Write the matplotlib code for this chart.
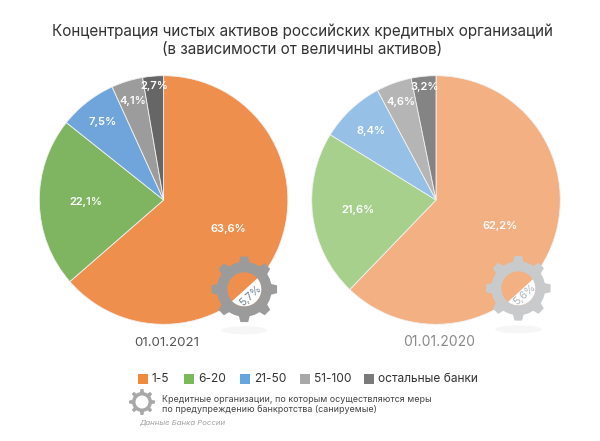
import numpy as np
import matplotlib
matplotlib.use("Agg")
import matplotlib.pyplot as plt
from matplotlib.patches import Circle, Polygon, Rectangle, Ellipse

plt.rcParams['font.family'] = ['Inter', 'DejaVu Sans']

groups = ['1-5', '6-20', '21-50', '51-100', 'остальные банки']
values_2021 = [63.6, 22.1, 7.5, 4.1, 2.7]
values_2020 = [62.2, 21.6, 8.4, 4.6, 3.2]
labels_2021 = ['63,6%', '22,1%', '7,5%', '4,1%', '2,7%']
labels_2020 = ['62,2%', '21,6%', '8,4%', '4,6%', '3,2%']
colors_2021 = ['#EF8F4E', '#7FB561', '#6FA5DB', '#9C9C9C', '#666666']
colors_2020 = ['#F3B083', '#A6D08C', '#97C0E6', '#B5B5B5', '#848484']
legend_colors = ['#F08A3C', '#7DB95C', '#65A5E0', '#A8A8A8', '#7A7A7A']
title_lines = 'Концентрация чистых активов российских кредитных организаций\n(в зависимости от величины активов)'
sanated_2021 = '5,7%'
sanated_2020 = '5,6%'

W, H = 600, 441
fig = plt.figure(figsize=(6, 4.41), dpi=100)
ax = fig.add_axes([0, 0, 1, 1])

def Y(py):
    return H - py

def draw_pie(cx, cy, r, vals, cols, labs, fracs):
    ax.pie(vals, colors=cols, startangle=90, counterclock=False,
           center=(cx, Y(cy)), radius=r, frame=True,
           wedgeprops=dict(linewidth=0.6, edgecolor='#F2F2F2'))
    cum = np.cumsum([0] + vals)
    for i, lab in enumerate(labs):
        a = np.deg2rad((cum[i] + vals[i] / 2) * 3.6)
        ax.text(cx + fracs[i] * r * np.sin(a), Y(cy) + fracs[i] * r * np.cos(a), lab,
                color='white', fontsize=8.0, fontweight='semibold', ha='center', va='center')

def gear_poly(cx, cy, ro, ri, teeth=8):
    pts = []
    w = 2 * np.pi / teeth
    for k in range(teeth):
        base = w * k
        for f, rad in [(-0.5, ri), (-0.25, ri), (-0.15, ro), (0.15, ro), (0.25, ri)]:
            t = base + f * w
            pts.append((cx + rad * np.cos(t), Y(cy) + rad * np.sin(t)))
    return pts

def draw_gear(cx, cy, ro, ri, hole, col, fill, txt=None, txtcol=None, a0=-136, a1=40, reflect=False):
    if reflect:
        ax.add_patch(Ellipse((cx, Y(cy + 41)), 46, 8, fc='#F6F6F6', ec='none', zorder=4))
    ax.add_patch(Polygon(gear_poly(cx, cy, ro, ri), closed=True, fc=col, ec='none', zorder=5))
    ax.add_patch(Circle((cx, Y(cy)), hole, fc=fill, ec='none', zorder=6))
    if txt:
        t = np.deg2rad(np.linspace(a0, a1, 60))
        ax.add_patch(Polygon(np.c_[cx + hole * np.cos(t), Y(cy) + hole * np.sin(t)],
                             closed=True, fc='white', ec='none', zorder=7))
        ax.text(cx + 6.5, Y(cy) - 6.5, txt, rotation=42, color=txtcol, fontsize=7.6,
                ha='center', va='center', zorder=8, rotation_mode='anchor')

draw_pie(163.6, 200, 124.3, values_2021, colors_2021, labels_2021, [0.57, 0.625, 0.80, 0.83, 0.92])
draw_pie(436, 200, 124.3, values_2020, colors_2020, labels_2020, [0.56, 0.63, 0.76, 0.84, 0.91])
draw_gear(244.3, 289.3, 33, 27.5, 17, '#9B9B9B', colors_2021[0], sanated_2021, '#6F8296', reflect=True)
draw_gear(518.3, 288.3, 32.5, 27, 17, '#C9CACC', colors_2020[0], sanated_2020, '#AEB6BE', -127, 32, reflect=True)

ax.text(302, Y(40.5), title_lines, ha='center', va='center', fontsize=10.97, color='#333333',
        linespacing=1.22)
ax.text(166.5, Y(342.5), '01.01.2021', ha='center', va='center', fontsize=9.6, color='#555555')
ax.text(439, Y(342.5), '01.01.2020', ha='center', va='center', fontsize=10, color='#8A8A8A')

square_x = [138, 184, 240, 300, 364]
for x, c, g in zip(square_x, legend_colors, groups):
    ax.add_patch(Rectangle((x, Y(384)), 10, 10, fc=c, ec='none'))
    ax.text(x + 14, Y(379.5), g, ha='left', va='center', fontsize=8.6, color='#333333')

draw_gear(142, 402, 13, 10, 6.5, '#A8A8A8', 'white')
ax.text(162, Y(404.5), 'Кредитные организации, по которым осуществляются меры\nпо предупреждению банкротства (санируемые)',
        ha='left', va='center', fontsize=6.45, color='#444444', linespacing=1.2)
ax.text(139, Y(423), 'Данные Банка России', ha='left', va='center', fontsize=5.6,
        color='#A0A0A0', style='italic')

ax.set_xlim(0, W)
ax.set_ylim(0, H)
ax.set_aspect('equal')
ax.axis('off')
fig.savefig('out.png', dpi=100, facecolor='white')
